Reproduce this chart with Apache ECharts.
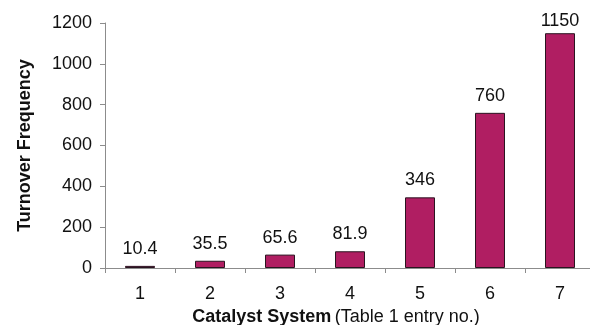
<!DOCTYPE html>
<html>
<head>
<meta charset="utf-8">
<script src="https://cdn.jsdelivr.net/npm/echarts@6/dist/echarts.min.js"></script>
<style>
  html, body { margin: 0; padding: 0; background: #fff; }
  #chart { width: 590px; height: 325px; }
</style>
</head>
<body>
<div id="chart"></div>
<script>
// Catalyst systems (Table 1 entry numbers) and their turnover frequencies
const categories = ['1', '2', '3', '4', '5', '6', '7'];
const turnoverValues = [10.4, 35.5, 65.6, 81.9, 346, 760, 1150];
const yTicks = [0, 200, 400, 600, 800, 1000, 1200];

const FONT = '"Liberation Sans", Arial, sans-serif';
const chart = echarts.init(document.getElementById('chart'), null, { renderer: 'canvas' });

// The tallest bar's label sits a little closer to its bar so it stays near the plot top
const barData = turnoverValues.map((v, i) =>
  i === turnoverValues.length - 1 ? { value: v, label: { distance: 3 } } : v
);

chart.setOption({
  animation: false,
  backgroundColor: '#ffffff',
  grid: {
    left: 105, top: 23, width: 490, height: 245,
    containLabel: false,
    outerBoundsMode: 'none'
  },
  xAxis: {
    type: 'category',
    data: categories,
    boundaryGap: true,
    axisLine: { lineStyle: { color: '#8c8c8c', width: 1 } },
    axisTick: { show: true, length: 5, alignWithLabel: false, lineStyle: { color: '#8c8c8c' } },
    axisLabel: { color: '#111', fontFamily: FONT, fontSize: 18, margin: 17 },
    name: '{b|Catalyst System} {n|(Table 1 entry no.)}',
    nameLocation: 'middle',
    nameGap: 39,
    nameTextStyle: {
      padding: [0, 28, 0, 0],
      rich: {
        b: { fontFamily: FONT, fontSize: 18, fontWeight: 'bold', color: '#111' },
        n: { fontFamily: FONT, fontSize: 18, color: '#111' }
      }
    }
  },
  yAxis: {
    type: 'value',
    min: yTicks[0],
    max: yTicks[yTicks.length - 1],
    interval: yTicks[1] - yTicks[0],
    axisLine: { show: true, lineStyle: { color: '#8c8c8c', width: 1 } },
    axisTick: { show: true, length: 5, lineStyle: { color: '#8c8c8c' } },
    splitLine: { show: false },
    axisLabel: {
      color: '#111', fontFamily: FONT, fontSize: 18, margin: 13,
      formatter: (v) => String(v)
    },
    name: 'Turnover Frequency',
    nameLocation: 'middle',
    nameGap: 71,
    nameTextStyle: { fontFamily: FONT, fontSize: 18, fontWeight: 'bold', color: '#111' }
  },
  series: [{
    type: 'bar',
    data: barData,
    barWidth: 30,
    itemStyle: { color: '#B01E62', borderColor: '#2a1420', borderWidth: 1 },
    label: {
      show: true,
      position: 'top',
      distance: 8,
      color: '#111',
      fontFamily: FONT,
      fontSize: 18
    }
  }]
});
</script>
</body>
</html>
